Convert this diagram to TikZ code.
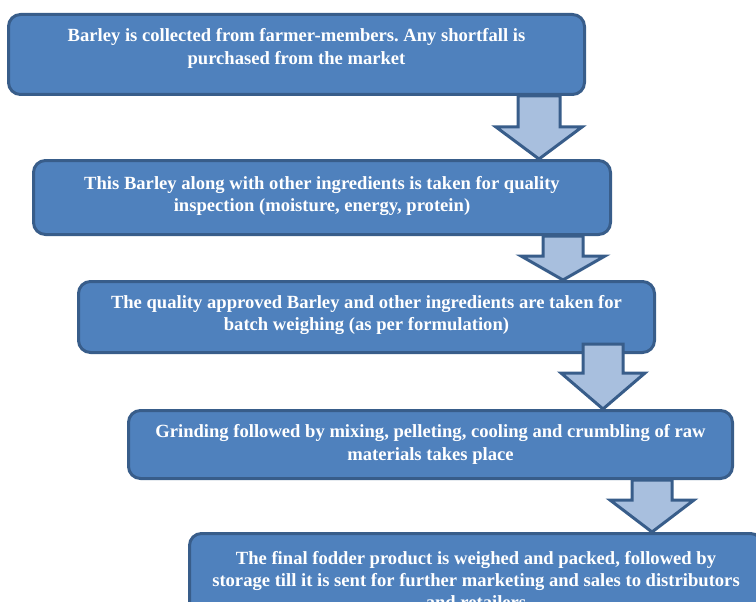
\documentclass[tikz,border=0pt]{standalone}
\usepackage{fontspec}
\setmainfont{Liberation Serif}
\usetikzlibrary{calc}

\definecolor{boxfill}{RGB}{79,129,189}
\definecolor{boxline}{RGB}{56,93,138}
\definecolor{arrowfill}{RGB}{168,191,222}

\tikzset{
  stepbox/.style={draw=boxline, fill=boxfill, line width=3pt,
    rounded corners=12pt, inner sep=0pt},
  steptext/.style={text=white, align=center, inner sep=0pt,
    font=\fontsize{18.6}{22.3}\selectfont\bfseries},
  blockarrow/.style={draw=boxline, fill=arrowfill, line width=3pt,
    line join=miter},
}

% Block arrow from the bottom of #1 down to the top of #2.
% #3 centre x, #4 shaft half width, #5 head half width,
% #6 y of the head base, #7 how far the shaft reaches up into #1
\newcommand\flowarrow[7]{%
  \coordinate (fa-top) at ($(#3,0 |- #1.south)+(0,-#7)$);
  \coordinate (fa-tip) at (#3,0 |- #2.north);
  \coordinate (fa-base) at (#3,#6);
  \draw[blockarrow]
    ($(fa-top)+(-#4,0)$) -- ($(fa-base)+(-#4,0)$) -- ($(fa-base)+(-#5,0)$)
    -- (fa-tip)
    -- ($(fa-base)+(#5,0)$) -- ($(fa-base)+(#4,0)$) -- ($(fa-top)+(#4,0)$)
    -- cycle;
}

\begin{document}
\frenchspacing
\begin{tikzpicture}[x=1pt, y=-1pt]
  \useasboundingbox (0,0) rectangle (756,602);
  \clip (0,0) rectangle (756,602);

  % process steps
  \node[stepbox, minimum width=576pt, minimum height=80pt] (b1) at (296.5,54.5) {};
  \node[stepbox, minimum width=577pt, minimum height=74pt] (b2) at (322,197.5) {};
  \node[stepbox, minimum width=576pt, minimum height=71pt] (b3) at (366.5,317) {};
  \node[stepbox, minimum width=604pt, minimum height=68pt] (b4) at (430.5,444.5) {};
  \node[stepbox, minimum width=573pt, minimum height=89pt] (b5) at (476,578) {};

  \node[steptext] (t1) at ([yshift=6pt]b1.center)
    {Barley is collected from farmer-members. Any shortfall is\\
     purchased from the market};
  \node[steptext] (t2) at ([yshift=1.5pt]b2.center)
    {This Barley along with other ingredients is taken for quality\\
     inspection (moisture, energy, protein)};
  \node[steptext] (t3) at ([yshift=2pt]b3.center)
    {The quality approved Barley and other ingredients are taken for\\
     batch weighing (as per formulation)};
  \node[steptext] (t4) at (b4.center)
    {Grinding followed by mixing, pelleting, cooling and crumbling of raw\\
     materials takes place};
  \node[steptext] (t5) at ([yshift=-2pt]b5.center)
    {The final fodder product is weighed and packed, followed by\\
     storage till it is sent for further marketing and sales to distributors\\
     and retailers};

  % arrows between the steps
  \flowarrow{b1}{b2}{539}{21}{43}{127}{0}
  \flowarrow{b2}{b3}{563}{20}{42}{256}{0}
  \flowarrow{b3}{b4}{603}{20}{42}{373}{10}
  \flowarrow{b4}{b5}{652}{20}{42}{500}{0}
\end{tikzpicture}
\end{document}
